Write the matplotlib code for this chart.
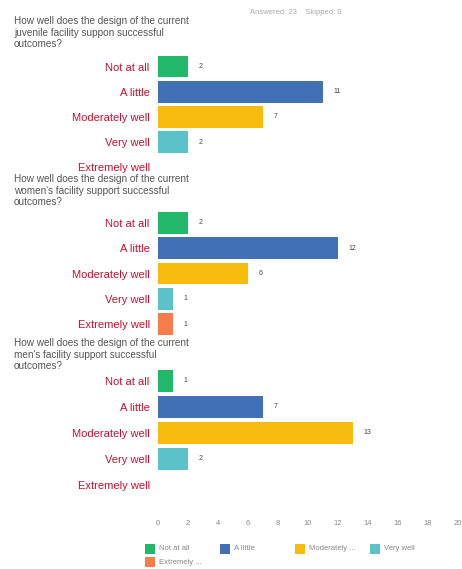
import matplotlib.pyplot as plt
from matplotlib.patches import Rectangle

plt.rcParams['font.family'] = ['Liberation Sans', 'DejaVu Sans']

categories = ['Not at all', 'A little', 'Moderately well', 'Very well', 'Extremely well']
legend_labels = ['Not at all', 'A little', 'Moderately ...', 'Very well', 'Extremely ...']
colors = ['#21b86a', '#4270b6', '#f6bb0d', '#5cc2c9', '#f47d4b']

questions = [
    'How well does the design of the current\njuvenile facility suppon successful\noutcomes?',
    "How well does the design of the current\nwomen's facility support successful\noutcomes?",
    "How well does the design of the current\nmen's facility support successful\noutcomes?",
]
juvenile = [2, 11, 7, 2, 0]
women = [2, 12, 6, 1, 1]
men = [1, 7, 13, 2, 0]
series = [juvenile, women, men]

xticks = [0, 2, 4, 6, 8, 10, 12, 14, 16, 18, 20]

W, H = 462, 569
fig = plt.figure(figsize=(W / 100, H / 100), dpi=100)

# (top px, height px) of each panel, title top px
panels = [(54, 126, 16), (210, 127, 174), (368, 130, 338)]

for i, (top, h, ttop) in enumerate(panels):
    ax = fig.add_axes([158 / W, 1 - (top + h) / H, 300 / W, h / H])
    vals = series[i]
    ypos = list(range(len(categories)))
    ax.barh(ypos, vals, height=0.86, color=colors)
    for y, v in zip(ypos, vals):
        if v > 0:
            ax.text(v + 0.7, y, str(v), va='center', ha='left', fontsize=5, color='#444444')
    ax.set_ylim(len(categories) - 0.5, -0.5)
    ax.set_xlim(0, 20)
    ax.set_yticks(ypos)
    ax.set_yticklabels(categories, fontsize=8, color='#c8102e')
    ax.tick_params(axis='y', length=0, pad=6)
    for s in ax.spines.values():
        s.set_visible(False)
    if i == 2:
        ax.set_xticks(xticks)
        ax.set_xticklabels([str(t) for t in xticks], fontsize=5.5, color='#888888')
        ax.tick_params(axis='x', length=0, pad=16)
    else:
        ax.set_xticks([])
    fig.text(14 / W, 1 - ttop / H, questions[i], ha='left', va='top',
             fontsize=7.2, color='#555555', linespacing=1.2)

fig.text(250 / W, 1 - 13 / H, 'Answered: 23    Skipped: 0', ha='left', va='center',
         fontsize=5.5, color='#aaaaaa')

# legend, laid out in rows of four like the survey export
lx = [145, 220, 295, 370]
for k, (lab, c) in enumerate(zip(legend_labels, colors)):
    x = lx[k % 4]
    y = 549 + 13 * (k // 4)
    fig.add_artist(Rectangle((x / W, 1 - (y + 5) / H), 10 / W, 10 / H,
                             transform=fig.transFigure, facecolor=c, edgecolor='none'))
    fig.text((x + 14) / W, 1 - y / H, lab, ha='left', va='center',
             fontsize=5.5, color='#888888')

fig.savefig('out.png', dpi=100)
